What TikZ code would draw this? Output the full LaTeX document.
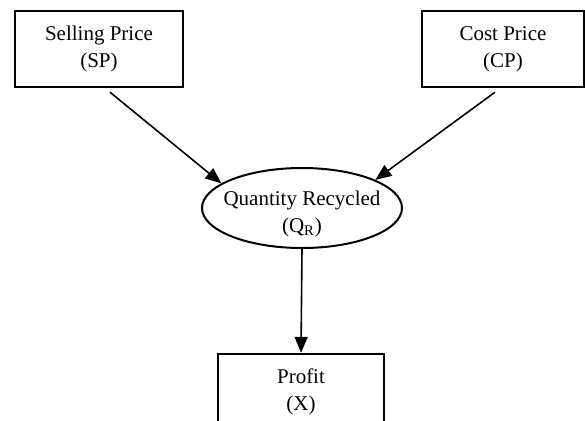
\documentclass[tikz,border=0pt]{standalone}
\usepackage{fontspec}
\setmainfont{Liberation Serif}
\usetikzlibrary{arrows.meta,shapes.geometric}

\begin{document}
\begin{tikzpicture}[x=0.5pt,y=-0.5pt,font=\fontsize{10.5}{13.5}\selectfont]
 \tikzset{box/.style={draw,line width=1.2pt,align=center,minimum width=84pt,minimum height=38pt,inner sep=0pt}}
 \tikzset{arr/.style={line width=0.8pt,-{Triangle[length=8pt,width=6.5pt]}}}
 \useasboundingbox (0,0) rectangle (585,420); %全体の枠

 \node[box] (sp) at (99,49) {Selling Price\\(SP)}; %売値
 \node[box,minimum width=81pt] (cp) at (503,49) {Cost Price\\(CP)}; %原価
 \node[draw,ellipse,line width=1pt,minimum width=100pt,minimum height=40pt] (qr) at (302,208) {}; %楕円
 \node[align=center] (qrtext) at (302,214) {Quantity Recycled\\(Q\textsubscript{R})}; %楕円の文字
 \node[box,minimum width=83pt] (x) at (301,392) {Profit\\(X)}; %利益

 \draw[arr] ([xshift=5.5pt,yshift=-2pt]sp.south)--(qr.163);
 \draw[arr] ([xshift=-4pt,yshift=-2pt]cp.south)--(qr.21);
 \draw[arr] (qr.south)--(x.north);
\end{tikzpicture}
\end{document}
